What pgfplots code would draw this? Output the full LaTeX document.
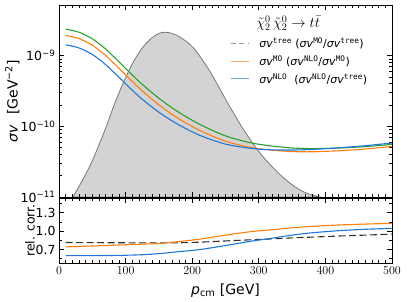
\documentclass[border=0pt]{standalone}
\usepackage{pgfplots}
\pgfplotsset{compat=1.18}
\usepackage{fontspec}
\setmainfont{DejaVu Sans}
\newfontfamily\monofont{DejaVu Sans Mono}
\definecolor{cgreen}{RGB}{44,160,44}
\definecolor{corange}{RGB}{255,127,14}
\definecolor{cblue}{RGB}{30,120,220}
\definecolor{gfill}{RGB}{211,211,211}
\definecolor{gedge}{RGB}{120,120,120}
\newcommand{\sv}{\textit{σv}}
\newcommand{\msup}[1]{\textsuperscript{\monofont #1}}
\pgfplotsset{
  myframe/.style={
    scale only axis, width=333pt,
    xmin=0, xmax=500,
    tick align=inside,
    major tick length=5pt, minor tick length=3pt,
    axis line style={line width=0.9pt},
    every tick/.style={black, line width=0.7pt},
    ticklabel style={font=\fontsize{12.5}{14}\selectfont},
  }
}
\begin{document}
\begin{tikzpicture}
\useasboundingbox (0,0) rectangle (407pt,301pt);
% gray distribution
\begin{axis}[at={(59pt,104pt)}, anchor=south west, scale only axis,
  width=333pt, height=192pt, xmin=0, xmax=500, ymin=0, ymax=1.1657,
  axis lines=none]
\addplot[fill=gfill, draw=gedge, line width=0.8pt, smooth, tension=0.5] table {
x y
21 0
35 0.10
50 0.22
69 0.407
82 0.55
94 0.67
109 0.80
124 0.90
139 0.965
150 0.993
158 1.0
168 0.995
182 0.970
202 0.905
227 0.76
252 0.58
277 0.41
302 0.265
327 0.155
342 0.10
355 0.06
367 0.032
380 0.012
392 0
} \closedcycle;
\end{axis}
% top panel
\begin{axis}[myframe, at={(59pt,104pt)}, anchor=south west, height=192pt,
  ymode=log, ymin=1e-11, ymax=5.2e-9,
  xtick={0,100,...,500}, xticklabels={}, minor x tick num=9,
  ytick={1e-11,1e-10,1e-9},
  yticklabels={10\textsuperscript{−11},10\textsuperscript{−10},10\textsuperscript{−9}},
  ylabel={\sv\hspace{0.7em}[GeV\textsuperscript{−2}]},
  ylabel style={font=\fontsize{14}{16}\selectfont, at={(axis description cs:-0.14,0.5)}, anchor=center, rotate=0},
  legend image code/.code={\draw[#1] (0pt,0pt) -- (18pt,0pt);},
  legend style={at={(axis description cs:0.5135,0.84)}, anchor=north west,
    draw=none, fill=none, font=\fontsize{11}{13}\selectfont,
    column sep=8pt, row sep=2.5pt, inner sep=0pt},
  legend cell align=left,
]
\addlegendimage{gray!80, line width=1.1pt, dash pattern=on 5pt off 3.5pt}
\addlegendimage{corange!65, line width=1.1pt}
\addlegendimage{cblue!65, line width=1.1pt}
\legend{{\sv\msup{tree} (\sv\msup{MO}/\sv\msup{tree})},
        {\sv\msup{MO} (\sv\msup{NLO}/\sv\msup{MO})},
        {\sv\msup{NLO}\ \ (\sv\msup{NLO}/\sv\msup{tree})}}
\addplot[cgreen, line width=1.1pt, smooth, forget plot] table {
x y
10 2.371e-9
20 2.270e-9
30 2.143e-9
40 1.945e-9
50 1.734e-9
60 1.479e-9
70 1.242e-9
82 9.68e-10
94 7.516e-10
110 5.321e-10
125 3.926e-10
152 2.415e-10
180 1.578e-10
212 1.059e-10
250 7.328e-11
287 5.875e-11
317 5.297e-11
350 4.943e-11
380 4.842e-11
420 4.932e-11
460 5.164e-11
500 5.559e-11
};
\addplot[corange, line width=1.1pt, smooth, forget plot] table {
x y
10 1.932e-9
20 1.848e-9
30 1.742e-9
40 1.579e-9
50 1.408e-9
60 1.199e-9
70 1.006e-9
82 7.841e-10
94 6.088e-10
110 4.305e-10
125 3.172e-10
152 1.949e-10
180 1.278e-10
212 8.684e-11
250 6.156e-11
287 5.041e-11
317 4.619e-11
350 4.399e-11
380 4.367e-11
420 4.513e-11
460 4.777e-11
500 5.198e-11
};
\addplot[cblue, line width=1.1pt, smooth, forget plot] table {
x y
10 1.423e-9
20 1.362e-9
30 1.286e-9
40 1.167e-9
50 1.040e-9
60 8.889e-10
70 7.477e-10
82 5.837e-10
94 4.547e-10
110 3.240e-10
125 2.414e-10
152 1.534e-10
180 1.049e-10
212 7.413e-11
250 5.606e-11
287 4.894e-11
317 4.661e-11
350 4.622e-11
380 4.711e-11
420 4.967e-11
460 5.319e-11
500 5.809e-11
};
\node[font=\fontsize{14}{16}\selectfont] at (axis description cs:0.688,0.905)
  {$\tilde{\chi}_2^0\,\tilde{\chi}_2^0 \to t\bar{t}$};
\end{axis}
% bottom panel
\begin{axis}[myframe, at={(59pt,38pt)}, anchor=south west, height=65pt,
  ymin=0.48, ymax=1.54,
  xtick={0,100,...,500}, minor x tick num=9,
  ytick={0.7,1.0,1.3}, yticklabels={0.7,1.0,1.3},
  minor ytick={0.55,0.85,1.15,1.45},
  xlabel={\textit{p}\textsubscript{cm} [GeV]},
  xlabel style={font=\fontsize{14}{16}\selectfont, at={(axis description cs:0.5,-0.42)}, anchor=center},
  ylabel={rel. corr.},
  ylabel style={font=\fontsize{12.5}{14}\selectfont, at={(axis description cs:-0.087,0.5)}, anchor=center},
]
\addplot[black!80, line width=1.1pt, smooth, dash pattern=on 7pt off 3.5pt] table {
x y
10 0.815
44 0.812
94 0.81
125 0.808
152 0.807
180 0.81
212 0.82
250 0.84
287 0.858
317 0.872
350 0.89
380 0.902
420 0.92
460 0.935
500 0.951
};
\addplot[corange, line width=1.1pt, smooth] table {
x y
10 0.743
44 0.755
70 0.765
94 0.775
125 0.788
152 0.80
180 0.83
212 0.87
250 0.935
287 0.99
317 1.02
350 1.055
380 1.078
420 1.10
460 1.115
500 1.127
};
\addplot[cblue, line width=1.1pt, smooth] table {
x y
10 0.60
44 0.60
70 0.602
94 0.605
125 0.615
152 0.635
180 0.665
212 0.70
250 0.765
287 0.833
317 0.88
350 0.935
380 0.973
420 1.007
460 1.03
500 1.045
};
\end{axis}
\end{tikzpicture}
\end{document}
